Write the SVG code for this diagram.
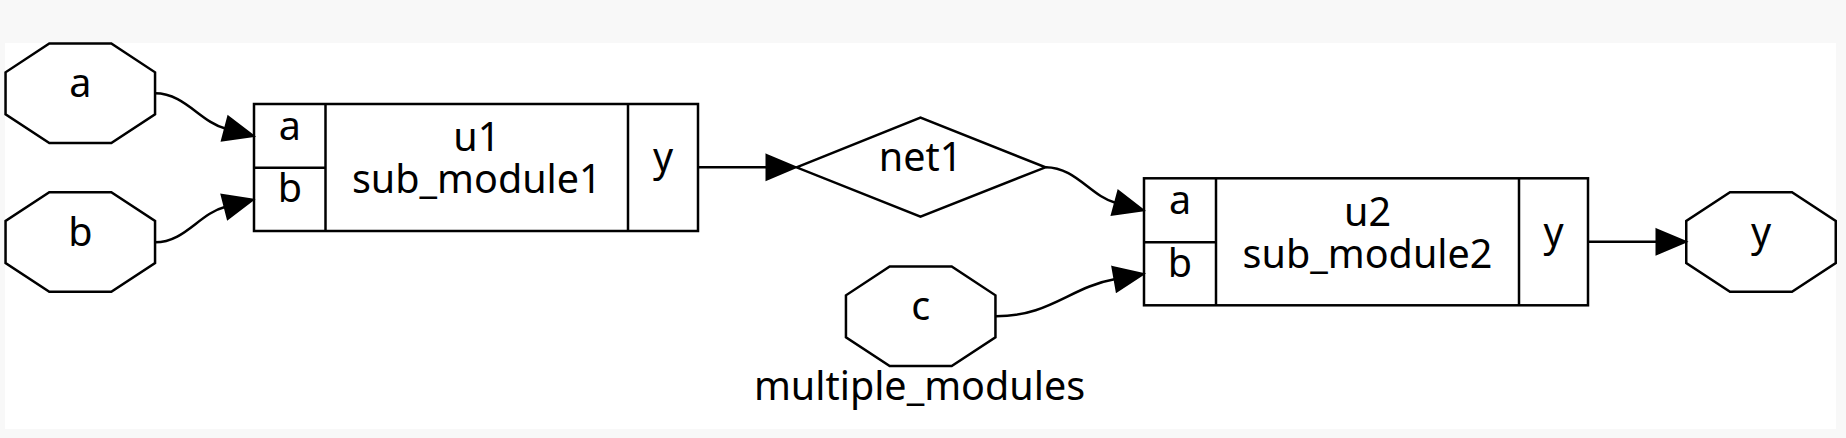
<svg xmlns="http://www.w3.org/2000/svg" width="1846" height="438" viewBox="0 0 1846 438">
<style>
.sh{fill:none;stroke:#000;stroke-width:2.5}
.ed{fill:none;stroke:#000;stroke-width:2.5}
text{font-family:"Noto Sans","Open Sans","DejaVu Sans",sans-serif;font-size:39.5px;fill:#000;text-anchor:middle}
</style>
<defs>
<polygon id="oct" points="-31,-49.75 31,-49.75 74.75,-21 74.75,21 31,49.75 -31,49.75 -74.75,21 -74.75,-21"/>
<marker id="arr" markerUnits="userSpaceOnUse" markerWidth="32" markerHeight="28" refX="1" refY="13" orient="auto" overflow="visible">
<path d="M0,0.5 L29.5,13 L0,25.5 z" fill="#000" stroke="#000" stroke-width="2" stroke-linejoin="miter"/>
</marker>
</defs>
<rect x="0" y="0" width="1846" height="438" fill="#f8f8f8"/>
<rect x="5" y="43" width="1831" height="386" fill="#fff"/>
<g id="a">
<use href="#oct" class="sh" x="80.3" y="93.3"/>
<text x="80.3" y="97">a</text>
</g>
<g id="b">
<use href="#oct" class="sh" x="80.3" y="242"/>
<text x="80.3" y="245.5">b</text>
</g>
<g id="c">
<use href="#oct" class="sh" x="920.7" y="316.3"/>
<text x="920.7" y="320">c</text>
</g>
<g id="y">
<use href="#oct" class="sh" x="1761" y="242"/>
<text x="1761" y="245.5">y</text>
</g>
<g id="u1">
<rect class="sh" x="254" y="104" width="444" height="127"/>
<line class="sh" x1="325.5" y1="104" x2="325.5" y2="231"/>
<line class="sh" x1="628" y1="104" x2="628" y2="231"/>
<line class="sh" x1="254" y1="167.7" x2="325.5" y2="167.7"/>
<text x="289.8" y="139.5">a</text>
<text x="289.8" y="202">b</text>
<text x="476.8" y="151">u1</text>
<text x="476.8" y="193">sub_module1</text>
<text x="663" y="171">y</text>
</g>
<g id="u2">
<rect class="sh" x="1144" y="178.3" width="444" height="127"/>
<line class="sh" x1="1216" y1="178.3" x2="1216" y2="305.3"/>
<line class="sh" x1="1519" y1="178.3" x2="1519" y2="305.3"/>
<line class="sh" x1="1144" y1="242.3" x2="1216" y2="242.3"/>
<text x="1180" y="214">a</text>
<text x="1180" y="277">b</text>
<text x="1367.5" y="225.5">u2</text>
<text x="1367.5" y="267.5">sub_module2</text>
<text x="1553.5" y="245.5">y</text>
</g>
<g id="net1">
<polygon class="sh" points="796.5,167.3 920.5,117.7 1045.5,167.3 920.5,216.7"/>
<text x="920.5" y="170.5">net1</text>
</g>
<g id="connectors">
<path class="ed" marker-end="url(#arr)" d="M155,93.3 C185,93.3 200,122 226,128.8"/>
<path class="ed" marker-end="url(#arr)" d="M155,242.3 C185,242.3 199,213.5 225.6,206.7"/>
<path class="ed" marker-end="url(#arr)" d="M698,167.3 L767.5,167.3"/>
<path class="ed" marker-end="url(#arr)" d="M1045.5,167.3 C1076,167.3 1090,196 1116,203"/>
<path class="ed" marker-end="url(#arr)" d="M996,316.3 C1050,316.3 1070,287 1115.5,279"/>
<path class="ed" marker-end="url(#arr)" d="M1588,241.8 L1657.5,241.8"/>
</g>
<text x="919.5" y="400">multiple_modules</text>
</svg>
